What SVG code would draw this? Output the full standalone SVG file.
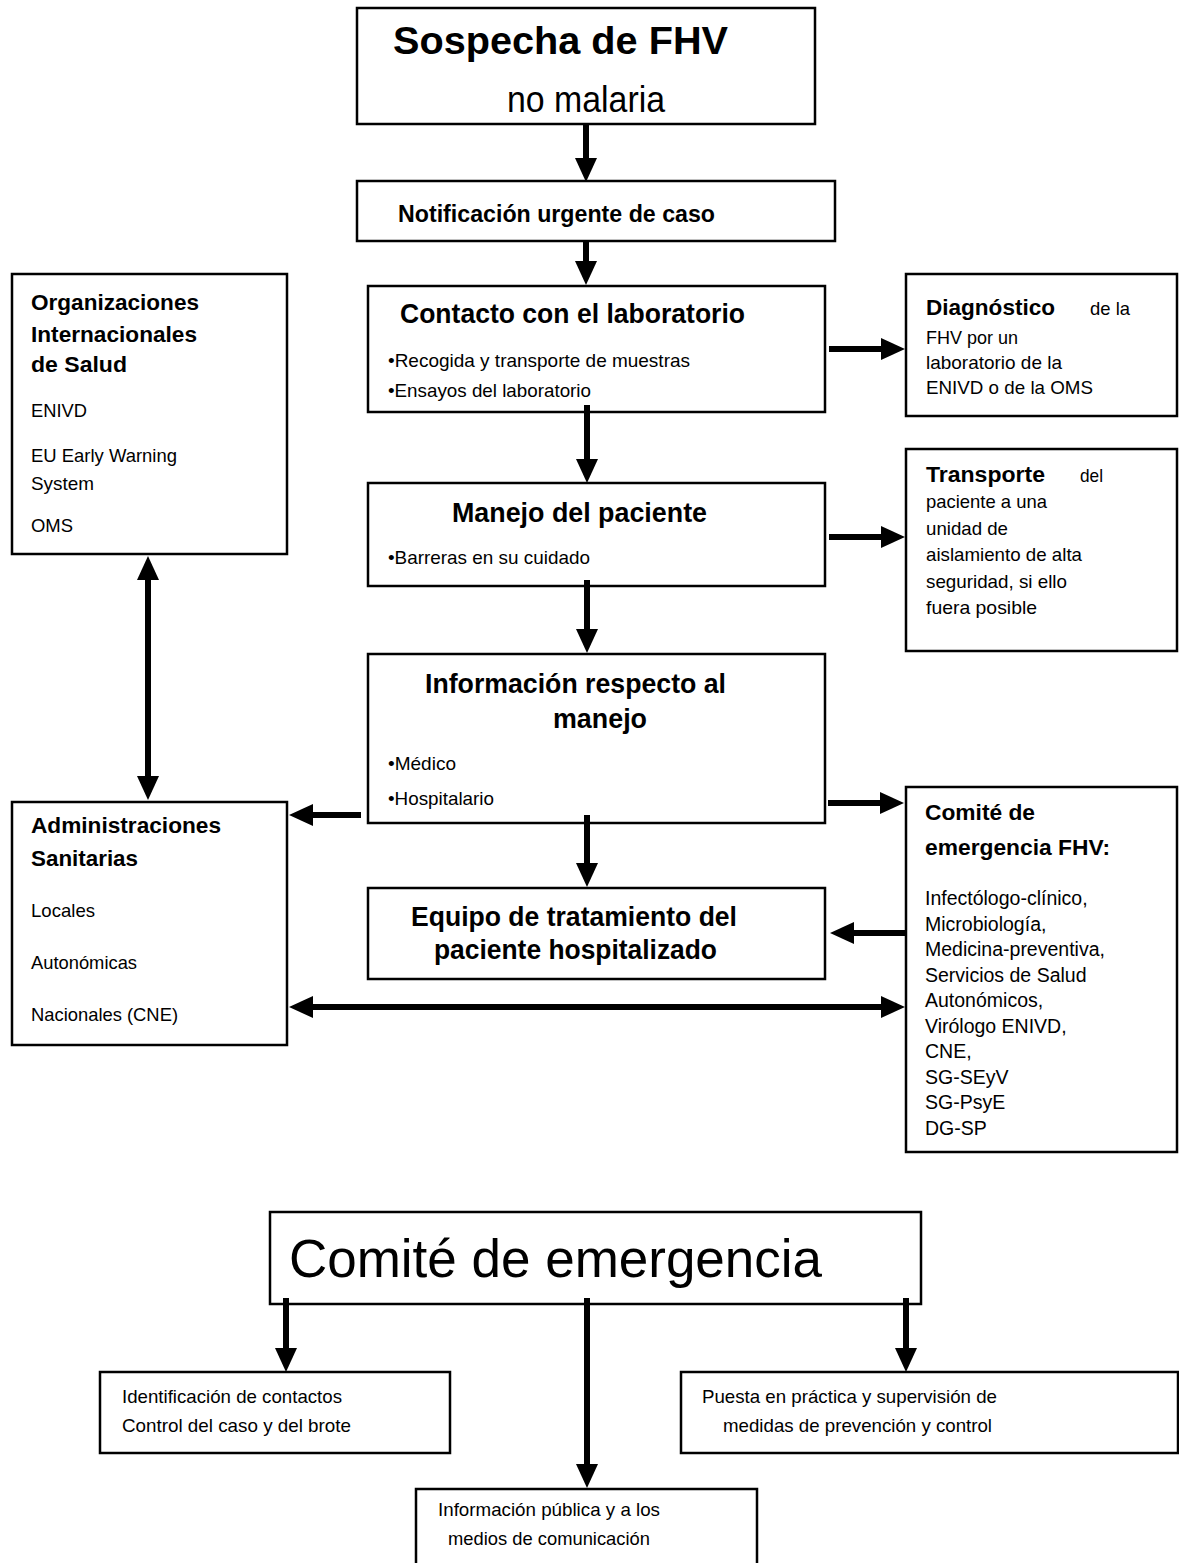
<svg xmlns="http://www.w3.org/2000/svg" width="1179" height="1563" viewBox="0 0 1179 1563">
<style>
text{font-family:"Liberation Sans",Arial,sans-serif;fill:#000;font-size:19px}
.b{font-weight:bold}
.t27{font-size:27px;font-weight:bold}
.t22{font-size:22px;font-weight:bold}
.r{font-size:19.5px}
.h1{font-size:39px;font-weight:bold}
.h1r{font-size:36px}
.h2{font-size:23px;font-weight:bold}
.h3{font-size:53px}
rect{fill:#fff;stroke:#000;stroke-width:2.5}
#connectors line{stroke:#000;stroke-width:6;marker-end:url(#ah)}
#connectors line.bi{marker-start:url(#ah)}
</style>
<defs>
<marker id="ah" markerUnits="userSpaceOnUse" markerWidth="24" markerHeight="22" viewBox="0 0 24 22" refX="4" refY="11" orient="auto-start-reverse"><path d="M0,0 L24,11 L0,22 Z" fill="#000"/></marker>
</defs>
<rect x="0" y="0" width="1179" height="1563" style="stroke:none;fill:#fff"/>

<g id="sospecha">
<rect x="357" y="8" width="458" height="116"/>
<text x="393" y="54" class="h1" textLength="335" lengthAdjust="spacingAndGlyphs">Sospecha de FHV</text>
<text x="507" y="112" class="h1r" textLength="158" lengthAdjust="spacingAndGlyphs">no malaria</text>
</g>

<g id="notificacion">
<rect x="357" y="181" width="478" height="60"/>
<text x="398" y="222" class="h2" textLength="317" lengthAdjust="spacingAndGlyphs">Notificación urgente de caso</text>
</g>

<g id="contacto">
<rect x="368" y="286" width="457" height="126"/>
<text x="400" y="323" class="t27" textLength="345" lengthAdjust="spacingAndGlyphs">Contacto con el laboratorio</text>
<text x="388" y="367" textLength="302" lengthAdjust="spacingAndGlyphs">•Recogida y transporte de muestras</text>
<text x="388" y="397" textLength="203" lengthAdjust="spacingAndGlyphs">•Ensayos del laboratorio</text>
</g>

<g id="manejo">
<rect x="368" y="483" width="457" height="103"/>
<text x="452" y="522" class="t27" textLength="255" lengthAdjust="spacingAndGlyphs">Manejo del paciente</text>
<text x="388" y="564" textLength="202" lengthAdjust="spacingAndGlyphs">•Barreras en su cuidado</text>
</g>

<g id="informacion">
<rect x="368" y="654" width="457" height="169"/>
<text x="425" y="693" class="t27" textLength="301" lengthAdjust="spacingAndGlyphs">Información respecto al</text>
<text x="553" y="728" class="t27" textLength="94" lengthAdjust="spacingAndGlyphs">manejo</text>
<text x="388" y="770" textLength="68" lengthAdjust="spacingAndGlyphs">•Médico</text>
<text x="388" y="805" textLength="106" lengthAdjust="spacingAndGlyphs">•Hospitalario</text>
</g>

<g id="equipo">
<rect x="368" y="888" width="457" height="91"/>
<text x="411" y="926" class="t27" textLength="326" lengthAdjust="spacingAndGlyphs">Equipo de tratamiento del</text>
<text x="434" y="959" class="t27" textLength="283" lengthAdjust="spacingAndGlyphs">paciente hospitalizado</text>
</g>

<g id="organizaciones">
<rect x="12" y="274" width="275" height="280"/>
<text x="31" y="310" class="t22" textLength="168" lengthAdjust="spacingAndGlyphs">Organizaciones</text>
<text x="31" y="342" class="t22" textLength="166" lengthAdjust="spacingAndGlyphs">Internacionales</text>
<text x="31" y="372" class="t22" textLength="96" lengthAdjust="spacingAndGlyphs">de Salud</text>
<text x="31" y="417" textLength="56" lengthAdjust="spacingAndGlyphs">ENIVD</text>
<text x="31" y="462" textLength="146" lengthAdjust="spacingAndGlyphs">EU Early Warning</text>
<text x="31" y="490" textLength="63" lengthAdjust="spacingAndGlyphs">System</text>
<text x="31" y="532" textLength="42" lengthAdjust="spacingAndGlyphs">OMS</text>
</g>

<g id="administraciones">
<rect x="12" y="802" width="275" height="243"/>
<text x="31" y="833" class="t22" textLength="190" lengthAdjust="spacingAndGlyphs">Administraciones</text>
<text x="31" y="866" class="t22" textLength="107" lengthAdjust="spacingAndGlyphs">Sanitarias</text>
<text x="31" y="917" textLength="64" lengthAdjust="spacingAndGlyphs">Locales</text>
<text x="31" y="969" textLength="106" lengthAdjust="spacingAndGlyphs">Autonómicas</text>
<text x="31" y="1021" textLength="147" lengthAdjust="spacingAndGlyphs">Nacionales (CNE)</text>
</g>

<g id="diagnostico">
<rect x="906" y="274" width="271" height="142"/>
<text x="926" y="315" class="t22" textLength="129" lengthAdjust="spacingAndGlyphs">Diagnóstico</text>
<text x="1090" y="315" textLength="40" lengthAdjust="spacingAndGlyphs">de la</text>
<text x="926" y="344" textLength="92" lengthAdjust="spacingAndGlyphs">FHV por un</text>
<text x="926" y="369" textLength="136" lengthAdjust="spacingAndGlyphs">laboratorio de la</text>
<text x="926" y="394" textLength="167" lengthAdjust="spacingAndGlyphs">ENIVD o de la OMS</text>
</g>

<g id="transporte">
<rect x="906" y="449" width="271" height="202"/>
<text x="926" y="482" class="t22" textLength="119" lengthAdjust="spacingAndGlyphs">Transporte</text>
<text x="1080" y="482" textLength="23" lengthAdjust="spacingAndGlyphs">del</text>
<text x="926" y="508" textLength="121" lengthAdjust="spacingAndGlyphs">paciente a una</text>
<text x="926" y="535" textLength="82" lengthAdjust="spacingAndGlyphs">unidad de</text>
<text x="926" y="561" textLength="156" lengthAdjust="spacingAndGlyphs">aislamiento de alta</text>
<text x="926" y="588" textLength="141" lengthAdjust="spacingAndGlyphs">seguridad, si ello</text>
<text x="926" y="614" textLength="111" lengthAdjust="spacingAndGlyphs">fuera posible</text>
</g>

<g id="comite-fhv">
<rect x="906" y="787" width="271" height="365"/>
<text x="925" y="820" class="t22" textLength="110" lengthAdjust="spacingAndGlyphs">Comité de</text>
<text x="925" y="855" class="t22" textLength="185" lengthAdjust="spacingAndGlyphs">emergencia FHV:</text>
<text x="925" y="905" class="r">Infectólogo-clínico,</text>
<text x="925" y="930.5" class="r">Microbiología,</text>
<text x="925" y="956" class="r">Medicina-preventiva,</text>
<text x="925" y="981.5" class="r">Servicios de Salud</text>
<text x="925" y="1007" class="r">Autonómicos,</text>
<text x="925" y="1032.5" class="r">Virólogo ENIVD,</text>
<text x="925" y="1058" class="r">CNE,</text>
<text x="925" y="1083.5" class="r">SG-SEyV</text>
<text x="925" y="1109" class="r">SG-PsyE</text>
<text x="925" y="1134.5" class="r">DG-SP</text>
</g>

<g id="comite-emergencia">
<rect x="270" y="1212" width="651" height="92"/>
<text x="289" y="1277" class="h3" textLength="533" lengthAdjust="spacingAndGlyphs">Comité de emergencia</text>
</g>

<g id="identificacion">
<rect x="100" y="1372" width="350" height="81"/>
<text x="122" y="1403" textLength="220" lengthAdjust="spacingAndGlyphs">Identificación de contactos</text>
<text x="122" y="1432" textLength="229" lengthAdjust="spacingAndGlyphs">Control del caso y del brote</text>
</g>

<g id="puesta">
<rect x="681" y="1372" width="497" height="81"/>
<text x="702" y="1403" textLength="295" lengthAdjust="spacingAndGlyphs">Puesta en práctica y supervisión de</text>
<text x="723" y="1432" textLength="269" lengthAdjust="spacingAndGlyphs">medidas de prevención y control</text>
</g>

<g id="informacion-publica">
<rect x="416" y="1489" width="341" height="90"/>
<text x="438" y="1516" textLength="222" lengthAdjust="spacingAndGlyphs">Información pública y a los</text>
<text x="448" y="1545" textLength="202" lengthAdjust="spacingAndGlyphs">medios de comunicación</text>
</g>

<g id="connectors">
<line x1="586" y1="124" x2="586" y2="162"/>
<line x1="586" y1="241" x2="586" y2="265"/>
<line x1="829" y1="349" x2="885" y2="349"/>
<line x1="587" y1="405" x2="587" y2="463"/>
<line x1="829" y1="537" x2="885" y2="537"/>
<line x1="587" y1="580" x2="587" y2="633"/>
<line x1="828" y1="803" x2="884" y2="803"/>
<line x1="361" y1="815" x2="309" y2="815"/>
<line x1="587" y1="815" x2="587" y2="867"/>
<line x1="906" y1="933" x2="850" y2="933"/>
<line class="bi" x1="309" y1="1007" x2="885" y2="1007"/>
<line class="bi" x1="148" y1="576" x2="148" y2="780"/>
<line x1="286" y1="1298" x2="286" y2="1352"/>
<line x1="587" y1="1298" x2="587" y2="1468"/>
<line x1="906" y1="1298" x2="906" y2="1352"/>
</g>
</svg>
